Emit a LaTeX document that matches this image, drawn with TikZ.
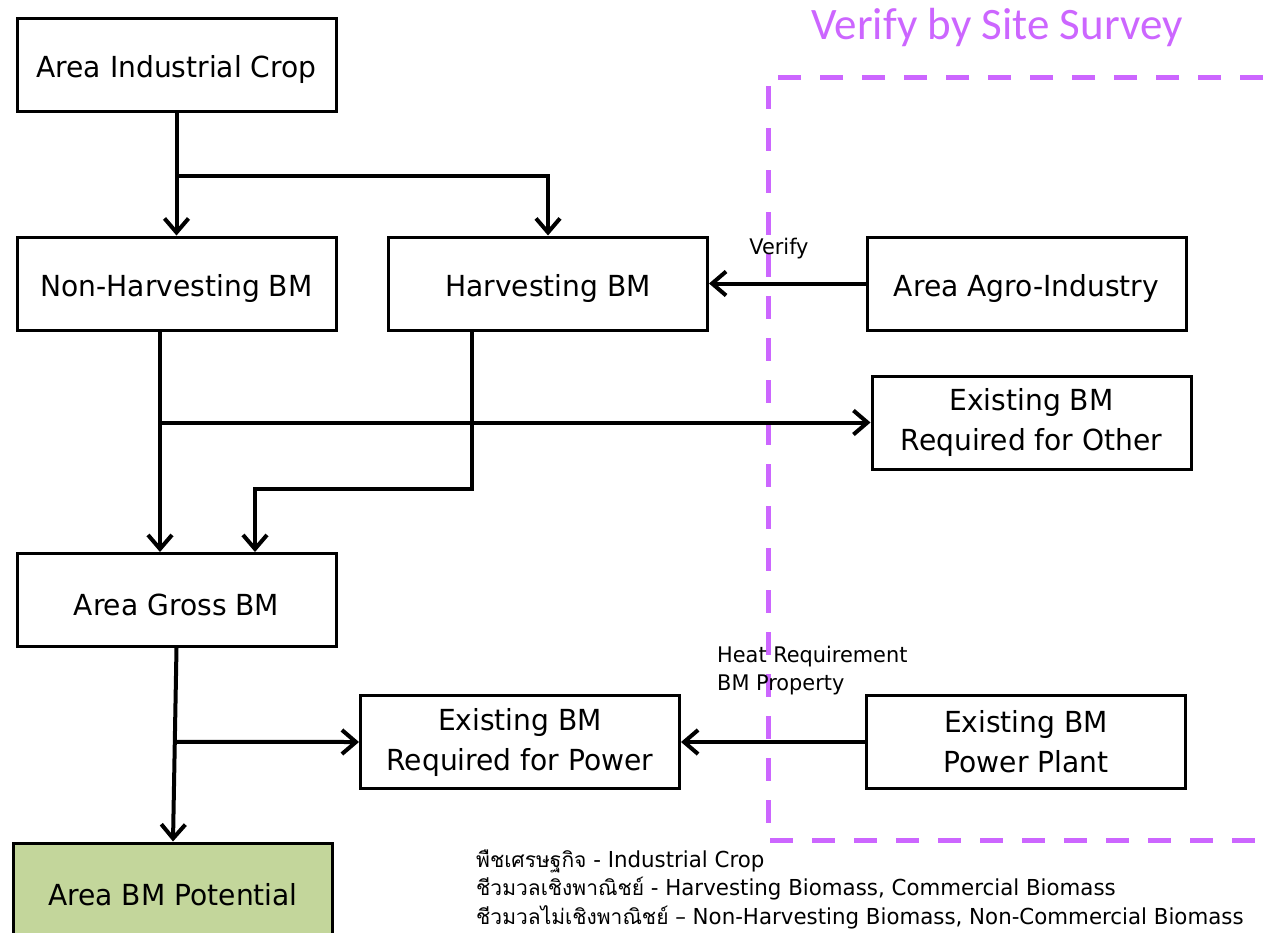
\documentclass[tikz,border=0pt]{standalone}
\usepackage{fontspec}
\setmainfont{DejaVu Sans}[FakeStretch=0.97]
\newfontfamily\thaifont[Script=Thai]{Loma}
\newfontfamily\titlefont{Carlito}
\usetikzlibrary{arrows.meta,calc}
\definecolor{violet}{HTML}{CC66FF}
\definecolor{potgreen}{HTML}{C3D69B}
\tikzset{
  box/.style={draw, line width=3pt, minimum width=319pt, minimum height=93pt, inner sep=0pt, align=center, font=\fontsize{29}{40}\selectfont},
  oneline/.style={execute at begin node={\rule{0pt}{32pt}}},
  conn/.style={line width=4pt, -{Straight Barb[length=14pt,width=24pt]}},
  lbl/.style={inner sep=0pt, font=\fontsize{21.5}{28}\selectfont, align=left},
  legend/.style={inner sep=0pt, anchor=west, font=\fontsize{22}{28}\selectfont}
}
\begin{document}
\begin{tikzpicture}[x=1pt,y=-1pt]
\useasboundingbox (0,0) rectangle (1263,932);
\clip (0,0) rectangle (1263,932);
% site survey frame
\draw[violet, line width=5pt, dash pattern=on 23pt off 19pt] (1263,77) -- (768,77) -- (768,840) -- (1263,840);
\node[text=violet, inner sep=0pt, font=\titlefont\fontsize{45}{50}\selectfont] (title) at (997,28) {Verify by Site Survey};
% nodes
\node[box, oneline] (crop) at (176.5,65) {Area Industrial Crop};
\node[box, oneline] (nh) at (176.5,283.5) {Non-Harvesting BM};
\node[box, oneline] (hv) at (548,283.5) {Harvesting BM};
\node[box, oneline] (agro) at (1026.5,283.5) {Area Agro-Industry};
\node[box] (other) at (1031.5,422.5) {Existing BM\\Required for Other};
\node[box, oneline] (gross) at (176.5,600) {Area Gross BM};
\node[box] (req) at (520,742) {Existing BM\\Required for Power};
\node[box] (plant) at (1026,742) {Existing BM\\Power Plant};
\node[box, oneline, fill=potgreen] (pot) at (173,889.5) {Area BM Potential};
% connectors
\coordinate (j1) at (176.5,176);
\draw[conn] (crop.south) -- (nh.north);
\draw[conn] (j1) -| (hv.north);
\draw[conn] (agro.west) -- (hv.east);
\node[lbl, anchor=south] (verify) at (779,259) {Verify};
\coordinate (nhs) at ([xshift=-16.5pt]nh.south);
\draw[conn] (nhs) -- (nhs |- gross.north);
\coordinate (j2) at (nhs |- other.west);
\draw[conn] (j2) -- (other.west);
\coordinate (hvs) at ([xshift=-76pt]hv.south);
\coordinate (j3) at ([yshift=-157pt]hvs);
\draw[conn] (hvs) -- (j3) -| ([xshift=78.5pt]gross.north);
\draw[conn] (gross.south) -- (pot.north);
\coordinate (j4) at ($(gross.south)!0.485!(pot.north)$);
\draw[conn] (j4) -- (req.west);
\draw[conn] (plant.west) -- (req.east);
\node[lbl, anchor=north west] (heat) at (717,646) {Heat Requirement\\BM Property};
% legend
\node[legend] (l1) at (476,861) {{\thaifont\fontsize{21}{28}\selectfont พืชเศรษฐกิจ} - Industrial Crop};
\node[legend] (l2) at (476,889) {{\thaifont\fontsize{21}{28}\selectfont ชีวมวลเชิงพาณิชย์} - Harvesting Biomass, Commercial Biomass};
\node[legend] (l3) at (476,917) {{\thaifont\fontsize{21}{28}\selectfont ชีวมวลไม่เชิงพาณิชย์} – Non-Harvesting Biomass, Non-Commercial Biomass};
\end{tikzpicture}
\end{document}
